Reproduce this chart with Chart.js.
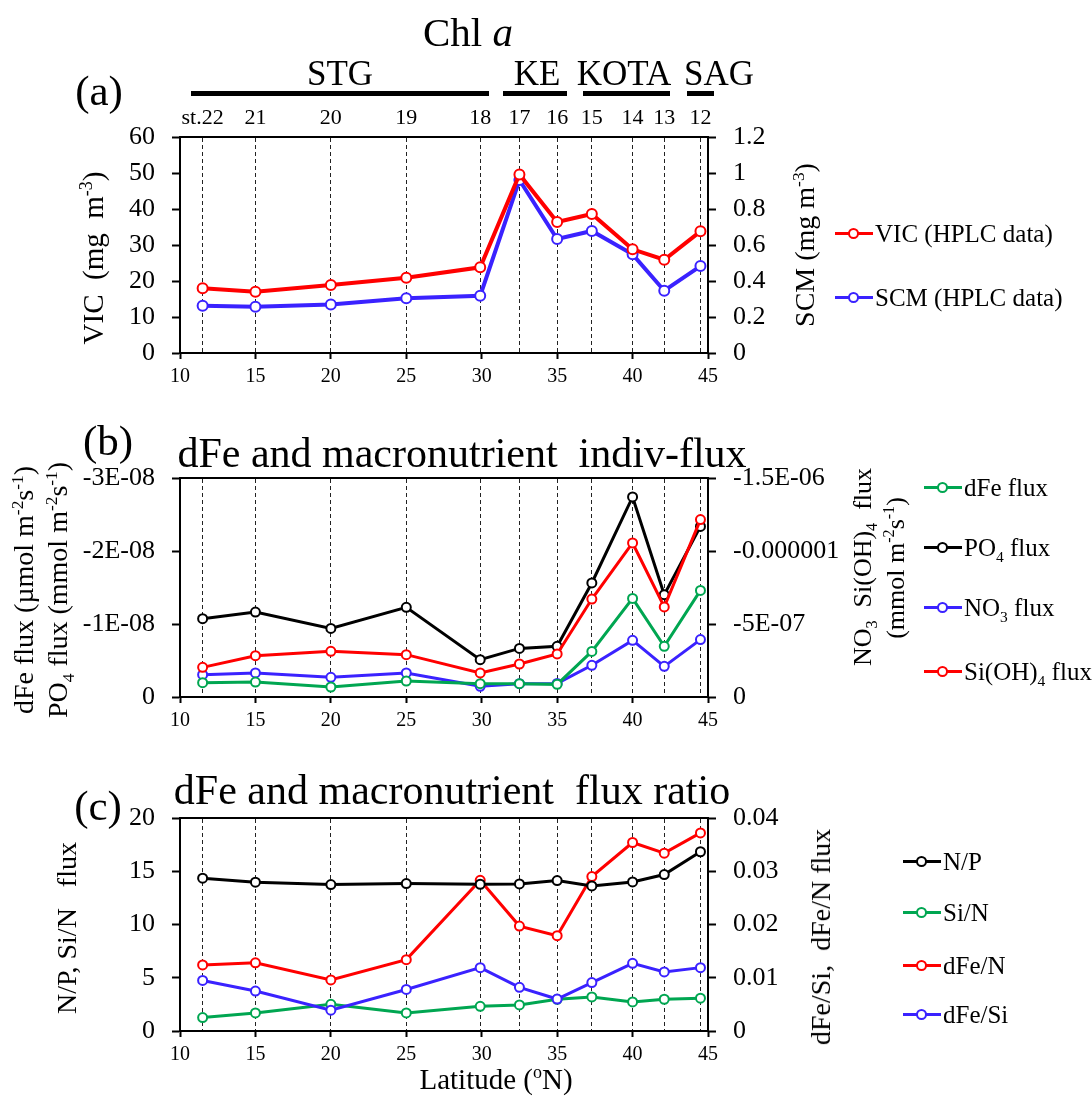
<!DOCTYPE html>
<html lang="en">
<head>
<meta charset="utf-8">
<title>Chl a</title>
<script src="https://cdn.jsdelivr.net/npm/chart.js@4.4.1/dist/chart.umd.min.js"></script>
<style>
  body { margin: 0; background: #fff; }
  #page { position: relative; width: 1092px; height: 1096px; overflow: hidden;
          font-family: 'Liberation Serif', 'Times New Roman', serif; color: #000; }
  canvas { position: absolute; left: 0; }
  .txt { position: absolute; white-space: nowrap; line-height: 1; transform: translate(-50%, -50%); }
  .rot { transform: translate(-50%, -50%) rotate(-90deg); }
  .bar { position: absolute; height: 5px; background: #000; }
  .leg { position: absolute; height: 30px; font-size: 25px; line-height: 30px; white-space: nowrap; }
  .leg .ln { position: absolute; left: 0; top: 13px; width: 38px; height: 3px; }
  .leg .pt { position: absolute; left: 13px; top: 9px; width: 7px; height: 7px; border: 2px solid; border-radius: 50%; background: #fff; }
  .leg .lb { position: absolute; left: 40px; top: 0; }
  sub, sup { font-size: 62%; line-height: 0; }
</style>
</head>
<body>
<div id="page">
  <canvas id="chartA" width="1092" height="400" style="top:0"></canvas>
  <canvas id="chartB" width="1092" height="340" style="top:400px"></canvas>
  <canvas id="chartC" width="1092" height="356" style="top:740px"></canvas>

  <!-- panel (a) texts -->
  <div class="txt" style="left:468px;top:32px;font-size:41px">Chl <i>a</i></div>
  <div class="txt" style="left:99px;top:90px;font-size:43px">(a)</div>
  <div class="txt" style="left:340px;top:73px;font-size:35px">STG</div>
  <div class="txt" style="left:537px;top:73px;font-size:35px">KE</div>
  <div class="txt" style="left:624px;top:73px;font-size:35px">KOTA</div>
  <div class="txt" style="left:719px;top:73px;font-size:35px">SAG</div>
  <div class="bar" style="left:191px;width:298px;top:91px"></div>
  <div class="bar" style="left:503px;width:64px;top:91px"></div>
  <div class="bar" style="left:583px;width:87px;top:91px"></div>
  <div class="bar" style="left:687px;width:27px;top:91px"></div>
  <div class="txt rot" style="left:93px;top:258px;font-size:29px">VIC&nbsp; (mg&nbsp; m<sup>-3</sup>)</div>
  <div class="txt rot" style="left:805px;top:245px;font-size:28px">SCM (mg m<sup>-3</sup>)</div>
  <div class="leg" style="left:835px;top:219px"><span class="ln" style="background:#ff0000"></span><span class="pt" style="border-color:#ff0000"></span><span class="lb">VIC (HPLC data)</span></div>
  <div class="leg" style="left:835px;top:283px"><span class="ln" style="background:#3a22ff"></span><span class="pt" style="border-color:#3a22ff"></span><span class="lb">SCM (HPLC data)</span></div>

  <!-- panel (b) texts -->
  <div class="txt" style="left:108px;top:440px;font-size:43px">(b)</div>
  <div class="txt" style="left:462px;top:453px;font-size:42px">dFe and macronutrient&nbsp; indiv-flux</div>
  <div class="txt rot" style="left:24px;top:590px;font-size:28px">dFe flux (µmol m<sup>-2</sup>s<sup>-1</sup>)</div>
  <div class="txt rot" style="left:58px;top:590px;font-size:28px">PO<sub>4</sub> flux (mmol m<sup>-2</sup>s<sup>-1</sup>)</div>
  <div class="txt rot" style="left:863px;top:567px;font-size:26px">NO<sub>3</sub>&nbsp; Si(OH)<sub>4</sub>&nbsp; flux</div>
  <div class="txt rot" style="left:896px;top:568px;font-size:26px">(mmol m<sup>-2</sup>s<sup>-1</sup>)</div>
  <div class="leg" style="left:924px;top:473px"><span class="ln" style="background:#00a651"></span><span class="pt" style="border-color:#00a651"></span><span class="lb">dFe flux</span></div>
  <div class="leg" style="left:924px;top:533px"><span class="ln" style="background:#000"></span><span class="pt" style="border-color:#000"></span><span class="lb">PO<sub>4</sub> flux</span></div>
  <div class="leg" style="left:924px;top:593px"><span class="ln" style="background:#3a22ff"></span><span class="pt" style="border-color:#3a22ff"></span><span class="lb">NO<sub>3</sub> flux</span></div>
  <div class="leg" style="left:924px;top:657px"><span class="ln" style="background:#ff0000"></span><span class="pt" style="border-color:#ff0000"></span><span class="lb">Si(OH)<sub>4</sub> flux</span></div>

  <!-- panel (c) texts -->
  <div class="txt" style="left:98px;top:805px;font-size:43px">(c)</div>
  <div class="txt" style="left:452px;top:790px;font-size:42px">dFe and macronutrient&nbsp; flux ratio</div>
  <div class="txt rot" style="left:67px;top:928px;font-size:28px">N/P, Si/N&nbsp;&nbsp; flux</div>
  <div class="txt rot" style="left:821px;top:937px;font-size:28px">dFe/Si,&nbsp; dFe/N flux</div>
  <div class="leg" style="left:903px;top:847px"><span class="ln" style="background:#000"></span><span class="pt" style="border-color:#000"></span><span class="lb">N/P</span></div>
  <div class="leg" style="left:903px;top:898px"><span class="ln" style="background:#00a651"></span><span class="pt" style="border-color:#00a651"></span><span class="lb">Si/N</span></div>
  <div class="leg" style="left:903px;top:951px"><span class="ln" style="background:#ff0000"></span><span class="pt" style="border-color:#ff0000"></span><span class="lb">dFe/N</span></div>
  <div class="leg" style="left:903px;top:1000px"><span class="ln" style="background:#3a22ff"></span><span class="pt" style="border-color:#3a22ff"></span><span class="lb">dFe/Si</span></div>
  <div class="txt" style="left:496px;top:1079px;font-size:29px">Latitude (<sup>o</sup>N)</div>
</div>

<script>
// station positions (latitude, oN) and names
var lat = [11.5, 15, 20, 25, 29.9, 32.5, 35, 37.3, 40, 42.1, 44.5];
var stationNames = ['st.22', '21', '20', '19', '18', '17', '16', '15', '14', '13', '12'];
var xTicks = [10, 15, 20, 25, 30, 35, 40, 45];

// (a) Chl a
var vic = [18.0, 17.0, 18.9, 20.9, 23.8, 49.6, 36.4, 38.6, 28.8, 25.9, 33.8];
var scm = [0.263, 0.257, 0.27, 0.304, 0.318, 0.961, 0.633, 0.678, 0.548, 0.346, 0.483];
var aLeftTicks = [0, 10, 20, 30, 40, 50, 60];
var aLeftLabels = ['0', '10', '20', '30', '40', '50', '60'];
var aRightTicks = [0, 0.2, 0.4, 0.6, 0.8, 1, 1.2];
var aRightLabels = ['0', '0.2', '0.4', '0.6', '0.8', '1', '1.2'];

// (b) individual fluxes
var dFeFlux = [-0.196e-8, -0.205e-8, -0.137e-8, -0.219e-8, -0.182e-8, -0.182e-8, -0.173e-8, -0.625e-8, -1.351e-8, -0.694e-8, -1.46e-8];
var po4Flux = [-1.073e-8, -1.164e-8, -0.94e-8, -1.228e-8, -0.511e-8, -0.666e-8, -0.694e-8, -1.562e-8, -2.74e-8, -1.401e-8, -2.337e-8];
var no3Flux = [-1.53e-7, -1.65e-7, -1.35e-7, -1.65e-7, -0.73e-7, -0.91e-7, -0.93e-7, -2.17e-7, -3.88e-7, -2.10e-7, -3.93e-7];
var siFlux = [-2.03e-7, -2.83e-7, -3.13e-7, -2.90e-7, -1.65e-7, -2.26e-7, -2.95e-7, -6.71e-7, -10.55e-7, -6.17e-7, -12.15e-7];
var bLeftTicks = [-3e-8, -2e-8, -1e-8, 0];
var bLeftLabels = ['-3E-08', '-2E-08', '-1E-08', '0'];
var bRightTicks = [-1.5e-6, -1e-6, -5e-7, 0];
var bRightLabels = ['-1.5E-06', '-0.000001', '-5E-07', '0'];

// (c) flux ratios
var npRatio = [14.35, 13.97, 13.75, 13.84, 13.78, 13.81, 14.12, 13.62, 14.0, 14.69, 16.83];
var siNRatio = [1.26, 1.70, 2.51, 1.70, 2.32, 2.45, 2.98, 3.2, 2.73, 2.98, 3.08];
var dFeNRatio = [0.0124, 0.0128, 0.0096, 0.0134, 0.0283, 0.0197, 0.0179, 0.029, 0.0354, 0.0334, 0.0372];
var dFeSiRatio = [0.0095, 0.0075, 0.0039, 0.0078, 0.0119, 0.0082, 0.006, 0.0091, 0.0127, 0.0111, 0.0119];
var cLeftTicks = [0, 5, 10, 15, 20];
var cLeftLabels = ['0', '5', '10', '15', '20'];
var cRightTicks = [0, 0.01, 0.02, 0.03, 0.04];
var cRightLabels = ['0', '0.01', '0.02', '0.03', '0.04'];

var FONT = "'Liberation Serif', 'Times New Roman', serif";
var RED = '#ff0000', BLUE = '#3a22ff', GREEN = '#00a651', BLACK = '#000000';

function fixedTicks(vals) {
  return function (s) { s.ticks = vals.map(function (v) { return { value: v }; }); };
}

function yScale(pos, min, max, vals, labels, width, reverse) {
  return {
    type: 'linear', position: pos, min: min, max: max, reverse: !!reverse,
    afterBuildTicks: fixedTicks(vals),
    afterFit: function (s) { s.width = width; },
    ticks: { color: '#000', font: { family: FONT, size: 26 }, padding: 17, autoSkip: false,
             callback: function (v, i) { return labels[i]; } },
    grid: { drawOnChartArea: false, tickLength: 8, tickWidth: 2, tickColor: '#000' },
    border: { color: '#000', width: 2 }
  };
}

function xScale(height) {
  return {
    type: 'linear', position: 'bottom', min: 10, max: 45,
    afterBuildTicks: fixedTicks(xTicks),
    afterFit: function (s) { s.height = height; },
    ticks: { color: '#000', font: { family: FONT, size: 20 }, padding: 6, maxRotation: 0, autoSkip: false,
             callback: function (v) { return String(v); } },
    grid: { drawOnChartArea: false, tickLength: 6, tickWidth: 2, tickColor: '#000' },
    border: { color: '#000', width: 2 }
  };
}

// top axis: station ticks, dashed vertical lines
function x2Scale(height, showLabels) {
  return {
    type: 'linear', position: 'top', min: 10, max: 45,
    afterBuildTicks: fixedTicks(lat),
    afterFit: function (s) { s.height = height; },
    ticks: { display: showLabels, color: '#000', font: { family: FONT, size: 22 }, padding: 6, maxRotation: 0, autoSkip: false,
             callback: function (v, i) { return stationNames[i]; } },
    grid: { drawTicks: false, color: '#222', lineWidth: 1 },
    border: { color: '#000', width: 2, dash: [4, 3] }
  };
}

function series(label, values, color, axis, width, radius) {
  return {
    label: label,
    data: lat.map(function (x, i) { return { x: x, y: values[i] }; }),
    borderColor: color, backgroundColor: '#fff',
    borderWidth: width || 3,
    pointRadius: radius || 4.5, pointBorderWidth: 2,
    pointBackgroundColor: '#fff', pointBorderColor: color,
    xAxisID: 'x', yAxisID: axis, tension: 0
  };
}

function makeChart(id, datasets, scales) {
  return new Chart(document.getElementById(id), {
    type: 'line',
    data: { datasets: datasets },
    options: {
      responsive: false, animation: false, devicePixelRatio: 1,
      layout: { padding: 0 },
      plugins: { legend: { display: false }, tooltip: { enabled: false } },
      scales: scales
    }
  });
}

makeChart('chartA', [
  series('VIC (HPLC data)', vic, RED, 'y', 4, 5),
  series('SCM (HPLC data)', scm, BLUE, 'y1', 4, 5)
], {
  x: xScale(47),
  x2: x2Scale(137, true),
  y: yScale('left', 0, 60, aLeftTicks, aLeftLabels, 180),
  y1: yScale('right', 0, 1.2, aRightTicks, aRightLabels, 384)
});

makeChart('chartB', [
  series('Si(OH)4 flux', siFlux, RED, 'y1'),
  series('PO4 flux', po4Flux, BLACK, 'y'),
  series('dFe flux', dFeFlux, GREEN, 'y'),
  series('NO3 flux', no3Flux, BLUE, 'y1')
], {
  x: xScale(43),
  x2: x2Scale(78, false),
  y: yScale('left', -3e-8, 0, bLeftTicks, bLeftLabels, 180, true),
  y1: yScale('right', -1.5e-6, 0, bRightTicks, bRightLabels, 384, true)
});

makeChart('chartC', [
  series('N/P', npRatio, BLACK, 'y'),
  series('dFe/N', dFeNRatio, RED, 'y1'),
  series('dFe/Si', dFeSiRatio, BLUE, 'y1'),
  series('Si/N', siNRatio, GREEN, 'y')
], {
  x: xScale(65),
  x2: x2Scale(78, false),
  y: yScale('left', 0, 20, cLeftTicks, cLeftLabels, 180),
  y1: yScale('right', 0, 0.04, cRightTicks, cRightLabels, 384)
});
</script>
</body>
</html>
